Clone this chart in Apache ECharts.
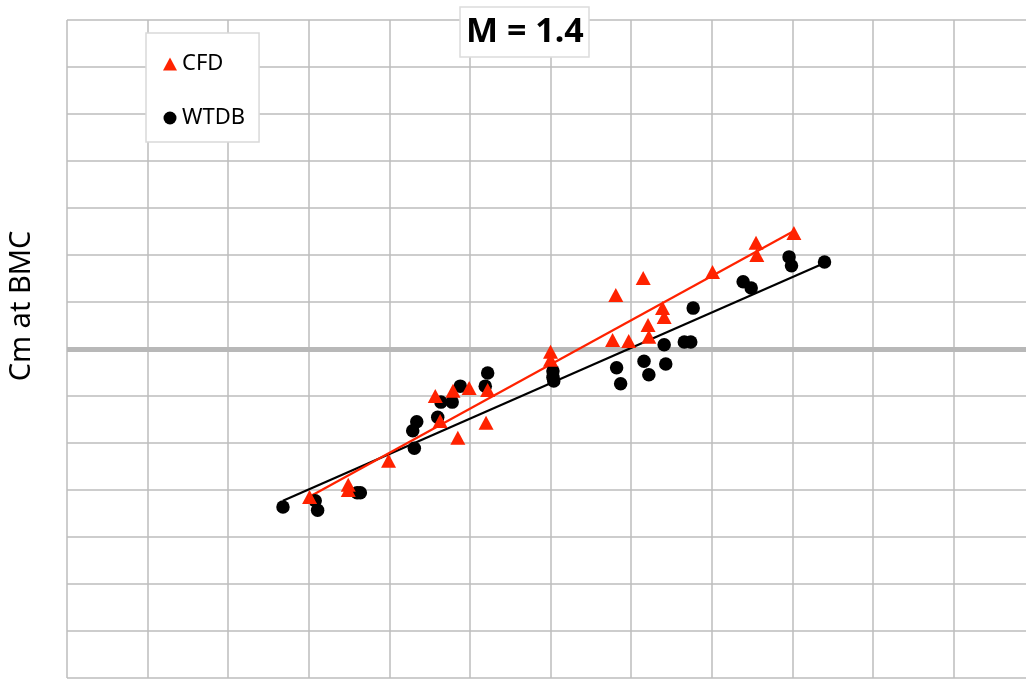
<!DOCTYPE html>
<html>
<head>
<meta charset="utf-8">
<script src="https://cdn.jsdelivr.net/npm/echarts@6/dist/echarts.min.js"></script>
<style>
html,body{margin:0;padding:0;background:#fff;}
#chart{width:1026px;height:680px;}
</style>
</head>
<body>
<div id="chart"></div>
<script>
// Data in grid-cell units (x: horizontal cells from left edge, y: cells from the heavy zero line)
const cfdX = [3.01,3.49,3.49,3.99,4.57,4.63,4.79,4.99,4.85,5.20,5.22,6.00,6.00,6.81,6.77,6.97,7.15,7.21,7.22,7.39,7.41,8.01,8.55,8.56,9.02];
const cfdY = [-3.15,-2.89,-3.00,-2.38,-1.00,-1.53,-0.89,-0.83,-1.89,-1.57,-0.87,-0.06,-0.23,1.15,0.19,0.17,1.51,0.51,0.26,0.87,0.68,1.64,2.26,2.00,2.47];
const wtdbX = [2.68,3.08,3.11,3.60,3.64,4.31,4.29,4.34,4.60,4.64,4.78,4.88,5.19,5.22,6.03,6.03,6.04,6.82,6.87,7.16,7.22,7.41,7.43,7.66,7.74,7.77,8.39,8.49,8.96,8.99,9.40];
const wtdbY = [-3.36,-3.23,-3.43,-3.06,-3.06,-2.11,-1.74,-1.55,-1.45,-1.13,-1.13,-0.79,-0.79,-0.51,-0.47,-0.60,-0.68,-0.40,-0.74,-0.26,-0.55,0.09,-0.32,0.15,0.15,0.87,1.43,1.30,1.96,1.77,1.85];
const cfdFitX = [2.98, 9.02];
const cfdFitY = [-3.17, 2.51];
const wtdbFitX = [2.68, 9.40];
const wtdbFitY = [-3.23, 1.83];
const seriesNames = ['CFD', 'WTDB'];
const titleText = 'M = 1.4';
const yAxisTitle = 'Cm at BMC';

const zip = (xs, ys) => xs.map((x, i) => [x, ys[i]]);
const RED = '#ff2200';
const GRIDC = '#bdbdbd';

const chart = echarts.init(document.getElementById('chart'));
chart.setOption({
  animation: false,
  backgroundColor: '#fff',
  title: {
    text: titleText,
    left: 460, top: 7,
    padding: [8, 6, 8, 6],
    borderColor: '#dcdcdc', borderWidth: 1.5,
    backgroundColor: '#fff',
    textStyle: { fontFamily: 'Noto Sans', fontWeight: 'bold', fontSize: 34, color: '#000' }
  },
  legend: {
    data: [
      { name: seriesNames[0], icon: 'triangle' },
      { name: seriesNames[1], icon: 'circle' }
    ],
    orient: 'vertical',
    left: 146, top: 33,
    padding: [20, 14, 13, 17],
    itemGap: 32,
    itemWidth: 14, itemHeight: 13,
    borderColor: '#d9d9d9', borderWidth: 1.5,
    backgroundColor: '#fff',
    textStyle: { fontFamily: 'Noto Sans', fontSize: 22, color: '#000' }
  },
  grid: { left: 67, right: 0, top: 20, bottom: 2 },
  xAxis: {
    type: 'value', min: 0, max: 11.9, interval: 1,
    axisLine: { show: false }, axisTick: { show: false }, axisLabel: { show: false },
    splitLine: { show: true, showMaxLine: false, lineStyle: { color: GRIDC, width: 1.5 } }
  },
  yAxis: {
    type: 'value', min: -7, max: 7, interval: 1,
    axisLine: { show: false }, axisTick: { show: false }, axisLabel: { show: false },
    splitLine: { show: true, lineStyle: { color: GRIDC, width: 1.5 } }
  },
  graphic: [{
    type: 'text', x: 22, y: 306, rotation: Math.PI / 2,
    style: { text: yAxisTitle, fontFamily: 'Noto Sans', fontSize: 29, fill: '#000', align: 'center', verticalAlign: 'middle' }
  }],
  series: [
    {
      name: 'WTDB fit', type: 'line', data: zip(wtdbFitX, wtdbFitY),
      showSymbol: false, symbol: 'none', z: 2,
      lineStyle: { color: '#000', width: 2.2 },
      markLine: {
        silent: true, symbol: 'none', z: 1,
        label: { show: false },
        lineStyle: { color: '#b8b8b8', width: 5, type: 'solid' },
        data: [{ yAxis: 0 }]
      }
    },
    {
      name: 'CFD fit', type: 'line', data: zip(cfdFitX, cfdFitY),
      showSymbol: false, symbol: 'none', z: 2,
      lineStyle: { color: RED, width: 2.2 }
    },
    {
      name: seriesNames[1], type: 'scatter', data: zip(wtdbX, wtdbY),
      symbol: 'circle', symbolSize: 13.5, z: 3,
      itemStyle: { color: '#000', opacity: 1 }
    },
    {
      name: seriesNames[0], type: 'scatter', data: zip(cfdX, cfdY),
      symbol: 'triangle', symbolSize: [15, 14], z: 4,
      itemStyle: { color: RED, opacity: 1 }
    }
  ]
});
</script>
</body>
</html>
